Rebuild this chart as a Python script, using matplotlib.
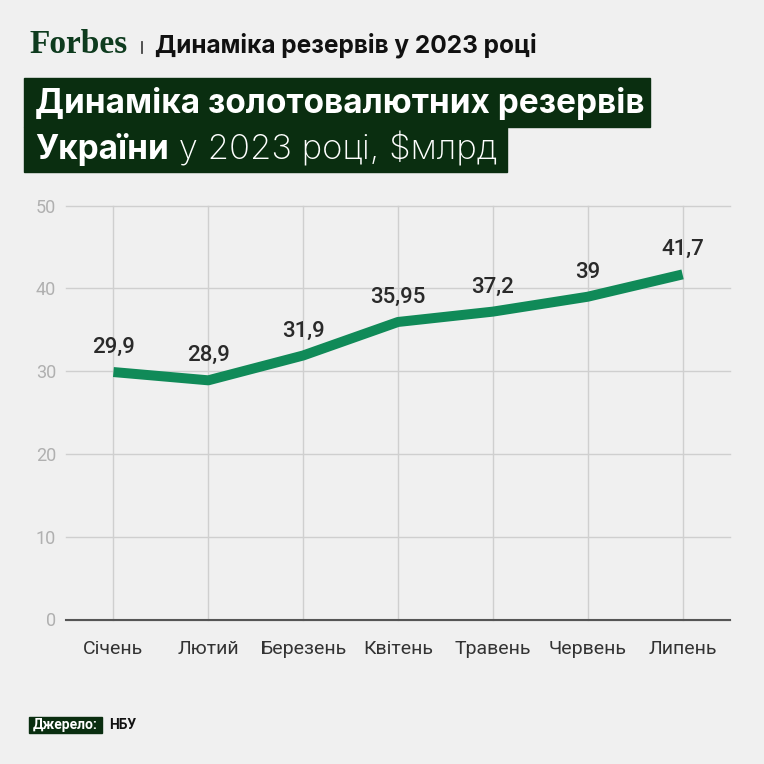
import matplotlib
matplotlib.use('Agg')
import matplotlib.pyplot as plt
from matplotlib.patches import Rectangle

# дані: золотовалютні резерви України у 2023 році, $млрд (джерело: НБУ)
months = ['Січень', 'Лютий', 'Березень', 'Квітень', 'Травень', 'Червень', 'Липень']
reserves = [29.9, 28.9, 31.9, 35.95, 37.2, 39.0, 41.7]
value_labels = ['29,9', '28,9', '31,9', '35,95', '37,2', '39', '41,7']
y_ticks = [0, 10, 20, 30, 40, 50]

BG = '#f0f0f0'
DARK_GREEN = '#0a2e10'
LINE_GREEN = '#108a58'

plt.rcParams['font.family'] = ['Roboto', 'DejaVu Sans']
TITLE_FONT = ['Inter', 'Roboto', 'DejaVu Sans']

W = H = 764
fig = plt.figure(figsize=(7.64, 7.64), dpi=100)
fig.patch.set_facecolor(BG)


def fx(px):
    return px / W


def fy(py):
    return 1 - py / H


# графік
ax = fig.add_axes([fx(66), fy(619.5), fx(730) - fx(66), fy(205.7) - fy(619.5)])
ax.set_facecolor(BG)
x = list(range(len(months)))
ax.plot(x, reserves, color=LINE_GREEN, lw=7.2, solid_capstyle='butt',
        solid_joinstyle='round', zorder=3, clip_on=False)
for i, (v, lbl) in enumerate(zip(reserves, value_labels)):
    ax.annotate(lbl, (i, v), xytext=(0, 13.7), textcoords='offset points',
                ha='center', va='baseline', fontsize=16, fontweight='medium',
                color='#2a2a2a', zorder=4)

ax.set_xlim(-0.5, 6.5)
ax.set_ylim(0, 50)
ax.set_xticks(x)
ax.set_xticklabels(months)
ax.set_yticks(y_ticks)
ax.grid(True, color='#cfcfcf', lw=1.0, zorder=0)
for gl in ax.get_xgridlines() + ax.get_ygridlines():
    gl.set_clip_on(False)
ax.set_axisbelow(True)
for s in ['top', 'right', 'left']:
    ax.spines[s].set_visible(False)
ax.spines['bottom'].set_color('#555555')
ax.spines['bottom'].set_linewidth(1.5)
ax.spines['bottom'].set_zorder(2)
ax.tick_params(axis='both', length=0)
ax.tick_params(axis='y', pad=7.2, labelsize=13, labelcolor='#b0b0b0')
ax.tick_params(axis='x', pad=15, labelsize=14, labelcolor='#333333')

# шапка
fig.text(fx(29), fy(53), 'Forbes', family='Liberation Serif', fontweight='bold',
         fontsize=24, color='#0e3b1e', va='baseline', ha='left')
fig.add_artist(plt.Line2D([fx(142), fx(142)], [fy(53), fy(42)], color='#444444', lw=1.3))
fig.text(fx(155), fy(53), 'Динаміка резервів у 2023 році', family=TITLE_FONT,
         fontweight='bold', fontsize=17.6, color='#111111', va='baseline', ha='left')

# заголовок на темно-зеленому тлі
t1 = fig.text(fx(35), fy(113), 'Динаміка золотовалютних резервів', family=TITLE_FONT,
              fontweight='bold', fontsize=24, color='white', va='baseline', ha='left', zorder=5)
t2a = fig.text(fx(35), fy(159), 'України', family=TITLE_FONT, fontweight='bold',
               fontsize=24, color='white', va='baseline', ha='left', zorder=5)

fig.canvas.draw()
r = fig.canvas.get_renderer()
e2a = t2a.get_window_extent(r)
t2b = fig.text(e2a.x1 / W, fy(159), ' у 2023 році, $млрд', family=TITLE_FONT,
               fontweight='light', fontsize=25, color='white', va='baseline', ha='left', zorder=5)
fig.canvas.draw()
e1 = t1.get_window_extent(r)
e2b = t2b.get_window_extent(r)

fig.add_artist(Rectangle((fx(24), fy(127)), (e1.x1 + 5) / W - fx(24), fy(78) - fy(127),
                         transform=fig.transFigure, color=DARK_GREEN, zorder=1))
fig.add_artist(Rectangle((fx(24), fy(172)), (e2b.x1 + 10) / W - fx(24), fy(127) - fy(172),
                         transform=fig.transFigure, color=DARK_GREEN, zorder=1))

# джерело
fig.add_artist(Rectangle((fx(29), fy(733)), fx(102) - fx(29), fy(717) - fy(733),
                         transform=fig.transFigure, color=DARK_GREEN, zorder=1))
fig.text(fx(65.5), fy(729), 'Джерело:', fontweight='bold', fontsize=10,
         color='white', va='baseline', ha='center', zorder=5)
fig.text(fx(109), fy(729), 'НБУ', fontweight='bold', fontsize=10,
         color='#111111', va='baseline', ha='left', zorder=5)

fig.savefig('out.png', dpi=100, facecolor=BG)
